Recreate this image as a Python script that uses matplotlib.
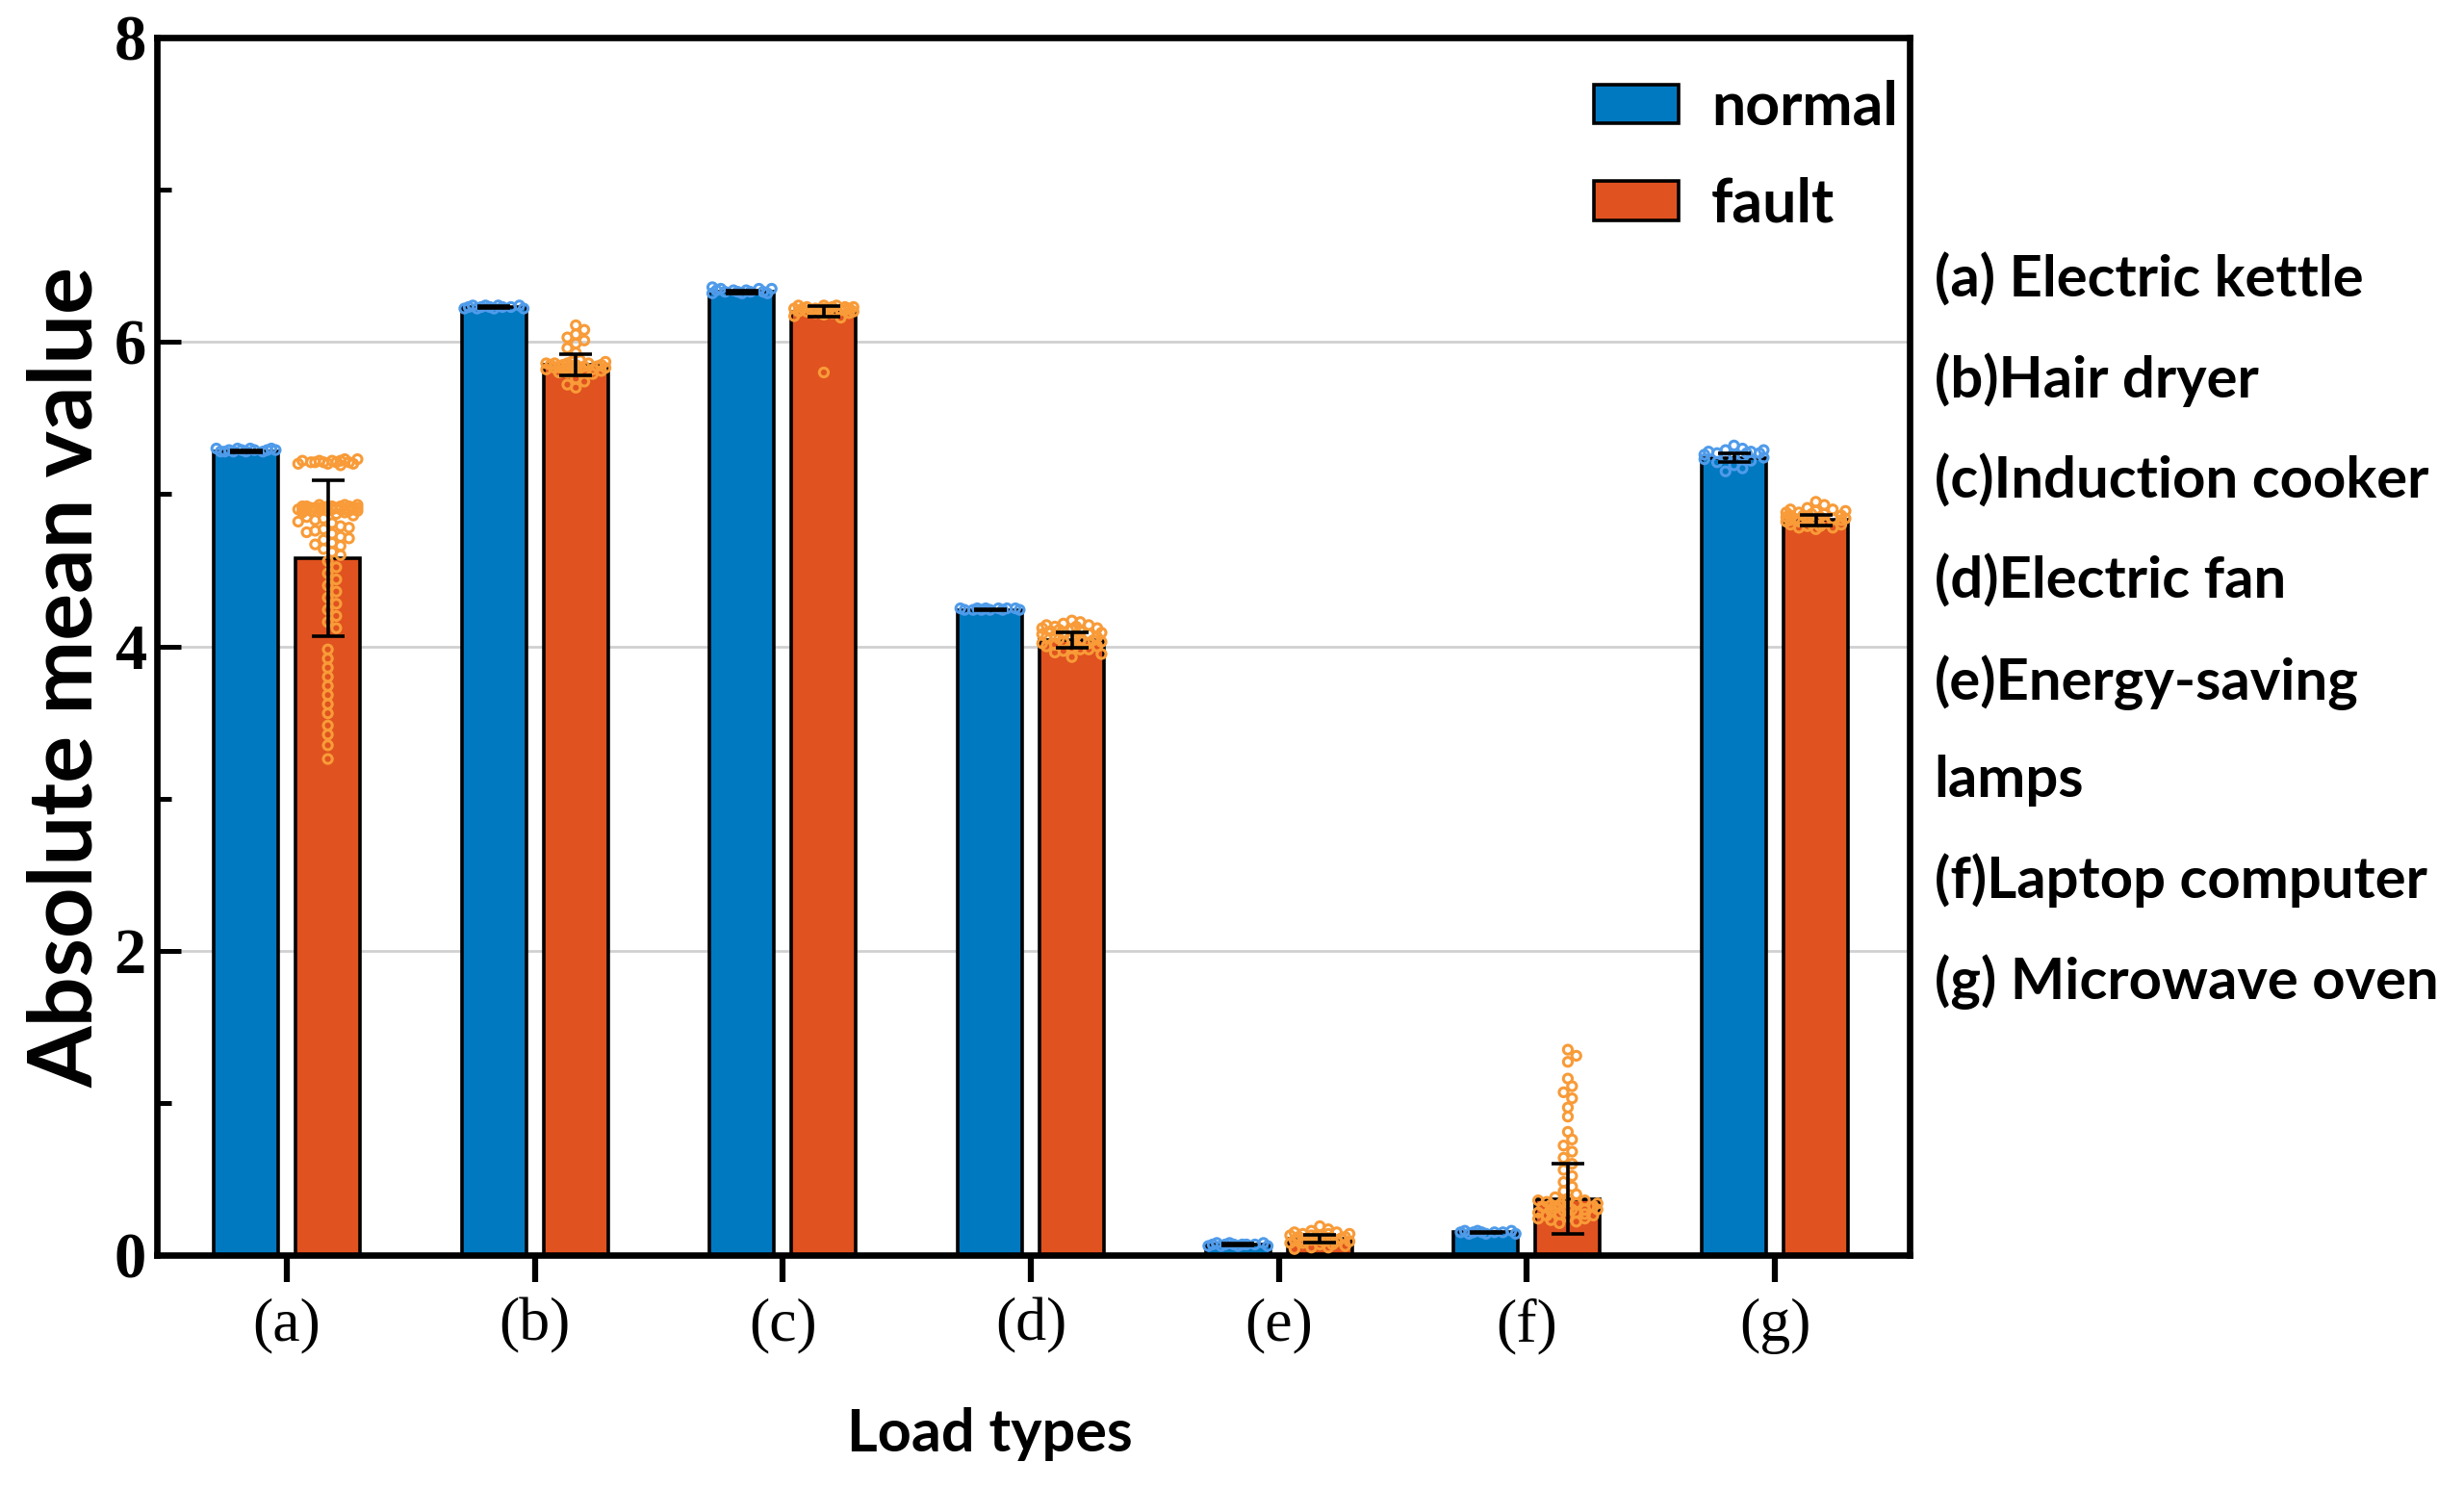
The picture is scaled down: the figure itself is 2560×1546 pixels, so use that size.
import matplotlib as mpl
mpl.use('Agg')
import matplotlib.pyplot as plt
import numpy as np

# bar heights / SD
categories = ['(a)', '(b)', '(c)', '(d)', '(e)', '(f)', '(g)']
normal_mean = [5.28, 6.23, 6.33, 4.24, 0.07, 0.15, 5.24]
normal_sd = [0.005, 0.005, 0.01, 0.005, 0.005, 0.005, 0.03]
fault_mean = [4.58, 5.85, 6.20, 4.04, 0.105, 0.37, 4.83]
fault_sd = [0.51, 0.07, 0.035, 0.05, 0.025, 0.23, 0.035]

# individual sample points (estimated)
normal_pts = [
    [5.28, 5.29, 5.30, 5.28, 5.29, 5.30, 5.28, 5.29, 5.30, 5.29, 5.28, 5.30, 5.29, 5.28],
    [6.22, 6.23, 6.24, 6.23, 6.22, 6.24, 6.23, 6.22, 6.24, 6.23, 6.22, 6.23, 6.24],
    [6.32, 6.33, 6.34, 6.35, 6.33, 6.32, 6.34, 6.35, 6.33, 6.34, 6.32, 6.33, 6.35, 6.36],
    [4.24, 4.25, 4.24, 4.25, 4.24, 4.25, 4.24, 4.25, 4.24, 4.25, 4.24, 4.25],
    [0.06, 0.07, 0.08, 0.07, 0.06, 0.08, 0.07, 0.06, 0.07, 0.08, 0.07, 0.06, 0.07],
    [0.14, 0.15, 0.16, 0.15, 0.14, 0.16, 0.15, 0.14, 0.15, 0.16, 0.15],
    [5.32, 5.30, 5.29, 5.28, 5.27, 5.26, 5.27, 5.28, 5.25, 5.24, 5.23, 5.22, 5.24, 5.26,
     5.21, 5.19, 5.17, 5.15, 5.29, 5.27],
]
fault_pts = [
    [5.20, 5.21, 5.22, 5.23, 5.21, 5.20, 5.22, 5.21, 5.23, 5.20, 5.22, 5.21, 5.19, 5.22, 5.21,
     4.92, 4.91, 4.90, 4.93, 4.89, 4.91, 4.92, 4.90, 4.88, 4.91, 4.93, 4.90, 4.92, 4.89, 4.91,
     4.90, 4.92, 4.88, 4.91, 4.90, 4.93, 4.89, 4.92, 4.91, 4.90, 4.87, 4.92, 4.91, 4.89, 4.90,
     4.86, 4.84, 4.83, 4.81, 4.79, 4.77, 4.76, 4.74, 4.72, 4.70, 4.68, 4.66, 4.64, 4.62, 4.60,
     4.85, 4.82, 4.78, 4.75, 4.71, 4.67,
     4.56, 4.52, 4.48, 4.44, 4.40, 4.36, 4.32, 4.28, 4.24, 4.20, 4.16, 4.12,
     3.98, 3.92, 3.86, 3.80, 3.74, 3.68, 3.62, 3.56, 3.48, 3.42, 3.35, 3.26],
    [6.11, 6.08, 6.05, 6.03, 6.01, 5.99, 5.96, 5.93,
     5.88, 5.87, 5.86, 5.85, 5.84, 5.83, 5.82, 5.81, 5.80, 5.79, 5.87, 5.86, 5.85, 5.84,
     5.83, 5.82, 5.81, 5.80, 5.86, 5.85, 5.84, 5.83, 5.82, 5.85, 5.84, 5.83, 5.86, 5.82,
     5.76, 5.74, 5.72, 5.70],
    [6.24, 6.23, 6.22, 6.21, 6.20, 6.19, 6.18, 6.24, 6.23, 6.22, 6.21, 6.20, 6.19, 6.23,
     6.22, 6.21, 6.20, 6.22, 6.21, 6.20, 6.23, 6.22, 6.21, 6.24, 6.20, 6.19, 6.17, 6.16,
     5.80],
    [4.17, 4.16, 4.15, 4.14, 4.13, 4.12, 4.11, 4.10, 4.09, 4.08, 4.07, 4.06, 4.05, 4.04,
     4.03, 4.02, 4.01, 4.00, 3.99, 3.98, 3.97, 4.14, 4.12, 4.10, 4.08, 4.06, 4.04, 4.02,
     4.00, 3.98, 4.13, 4.11, 4.09, 4.07, 4.05, 4.03, 4.01, 3.96, 3.95, 3.93],
    [0.19, 0.17, 0.16, 0.15, 0.14, 0.13, 0.12, 0.11, 0.10, 0.09, 0.08, 0.07, 0.06, 0.05,
     0.15, 0.14, 0.13, 0.12, 0.11, 0.10, 0.09, 0.08, 0.07, 0.14, 0.13, 0.12, 0.11, 0.10,
     0.09, 0.12, 0.11, 0.10, 0.05, 0.04],
    [1.35, 1.31, 1.27, 1.16, 1.11, 1.07, 1.03, 0.97, 0.91, 0.81, 0.76, 0.72, 0.68,
     0.64, 0.60, 0.56, 0.52, 0.48, 0.45, 0.42,
     0.40, 0.38, 0.37, 0.36, 0.35, 0.34, 0.33, 0.32, 0.31, 0.30, 0.29, 0.28, 0.27, 0.26,
     0.25, 0.24, 0.23, 0.22, 0.21, 0.36, 0.34, 0.32, 0.30, 0.28, 0.26, 0.24, 0.33, 0.31,
     0.29, 0.27, 0.35, 0.30],
    [4.95, 4.93, 4.91, 4.90, 4.89, 4.88, 4.87, 4.86, 4.85, 4.84, 4.83, 4.82, 4.81, 4.80,
     4.79, 4.78, 4.77, 4.90, 4.88, 4.86, 4.84, 4.82, 4.80, 4.78, 4.89, 4.87, 4.85, 4.83,
     4.81, 4.79, 4.86, 4.84, 4.82, 4.85, 4.83],
]

legend_labels = ['normal', 'fault']
side_text = ['(a) Electric kettle', '(b)Hair dryer', '(c)Induction cooker', '(d)Electric fan',
             '(e)Energy-saving', 'lamps', '(f)Laptop computer', '(g) Microwave oven']

blue = '#0079C1'
blue_pt = '#4F9BEA'
red = '#E0521F'
orange_pt = '#F89B38'

fig = plt.figure(figsize=(25.6, 15.46), dpi=100)
ax = fig.add_axes([0.0637, 0.1565, 0.7113, 0.8182])

x = np.arange(len(categories))
w = 0.26
off = 0.165
xmin, xmax = -0.524, 6.543
ymin, ymax = 0, 8

# pixel scales for the swarm layout
px_x = (0.7113 * 2560) / (xmax - xmin)
px_y = (0.8182 * 1546) / (ymax - ymin)


def swarm(vals, diam=8.0, half=0.12):
    placed = []
    out = []
    cands = [0.0]
    step = diam * 0.55
    k = 1
    while k * step / px_x <= half:
        cands += [k * step, -k * step]
        k += 1
    for v in vals:
        yp = v * px_y
        best, bestd = 0.0, -1
        for c in cands:
            d = min([np.hypot(c - px, yp - py) for px, py in placed] or [1e9])
            if d >= diam:
                best = c
                bestd = d
                break
            if d > bestd:
                best, bestd = c, d
        placed.append((best, yp))
        out.append(best / px_x)
    return np.array(out)


ax.bar(x - off, normal_mean, w, color=blue, edgecolor='black', linewidth=2.6, zorder=2,
       label=legend_labels[0])
ax.bar(x + off, fault_mean, w, color=red, edgecolor='black', linewidth=2.6, zorder=2,
       label=legend_labels[1])

for i in range(len(categories)):
    v = normal_pts[i]
    ax.scatter(x[i] - off + swarm(v), v, s=44, facecolors='none', edgecolors=blue_pt,
               linewidths=2.2, zorder=3)
    v = fault_pts[i]
    ax.scatter(x[i] + off + swarm(v), v, s=44, facecolors='none', edgecolors=orange_pt,
               linewidths=2.2, zorder=3)

ax.errorbar(x - off, normal_mean, yerr=normal_sd, fmt='none', ecolor='black',
            elinewidth=2.6, capsize=12, capthick=2.6, zorder=4)
ax.errorbar(x + off, fault_mean, yerr=fault_sd, fmt='none', ecolor='black',
            elinewidth=2.6, capsize=12, capthick=2.6, zorder=4)

ax.set_xlim(xmin, xmax)
ax.set_ylim(ymin, ymax)
ax.set_xticks(x)
ax.set_xticklabels(categories, fontfamily='Liberation Serif', fontsize=46)
ax.set_yticks([0, 2, 4, 6, 8])
ax.set_yticks([1, 3, 5, 7], minor=True)
for t in ax.get_yticklabels():
    t.set_fontfamily('Liberation Serif')
    t.set_fontweight('bold')
    t.set_fontsize(48)

ax.tick_params(axis='y', which='major', direction='in', length=18, width=3.6, pad=8)
ax.tick_params(axis='y', which='minor', direction='in', length=11, width=3.6)
ax.tick_params(axis='x', which='major', direction='out', length=20, width=4.5, pad=12)
for s in ax.spines.values():
    s.set_linewidth(4.8)

ax.yaxis.grid(True, color='#d0d0d0', linewidth=2)
ax.set_axisbelow(True)

ax.set_ylabel('Absolute mean value', fontfamily='Lato', fontweight='bold', fontsize=66)
ax.yaxis.set_label_coords(-0.028, 0.475)
ax.set_xlabel('Load types', fontfamily='Lato', fontweight='bold', fontsize=44)
ax.xaxis.set_label_coords(0.475, -0.125)

ax.legend(loc='upper right', bbox_to_anchor=(1.014, 0.995), frameon=False,
          prop={'family': 'Lato', 'weight': 'bold', 'size': 45},
          handlelength=1.4, handleheight=0.62, handletextpad=0.55, labelspacing=0.68,
          borderaxespad=0.2)
for p in ax.get_legend().get_patches():
    p.set_linewidth(2.6)

fig.text(0.785, 1 - 262 / 1546, '\n'.join(side_text), ha='left', va='top',
         fontfamily='Lato', fontweight='bold', fontsize=43, linespacing=2.04)

fig.savefig('out.png', dpi=100)
